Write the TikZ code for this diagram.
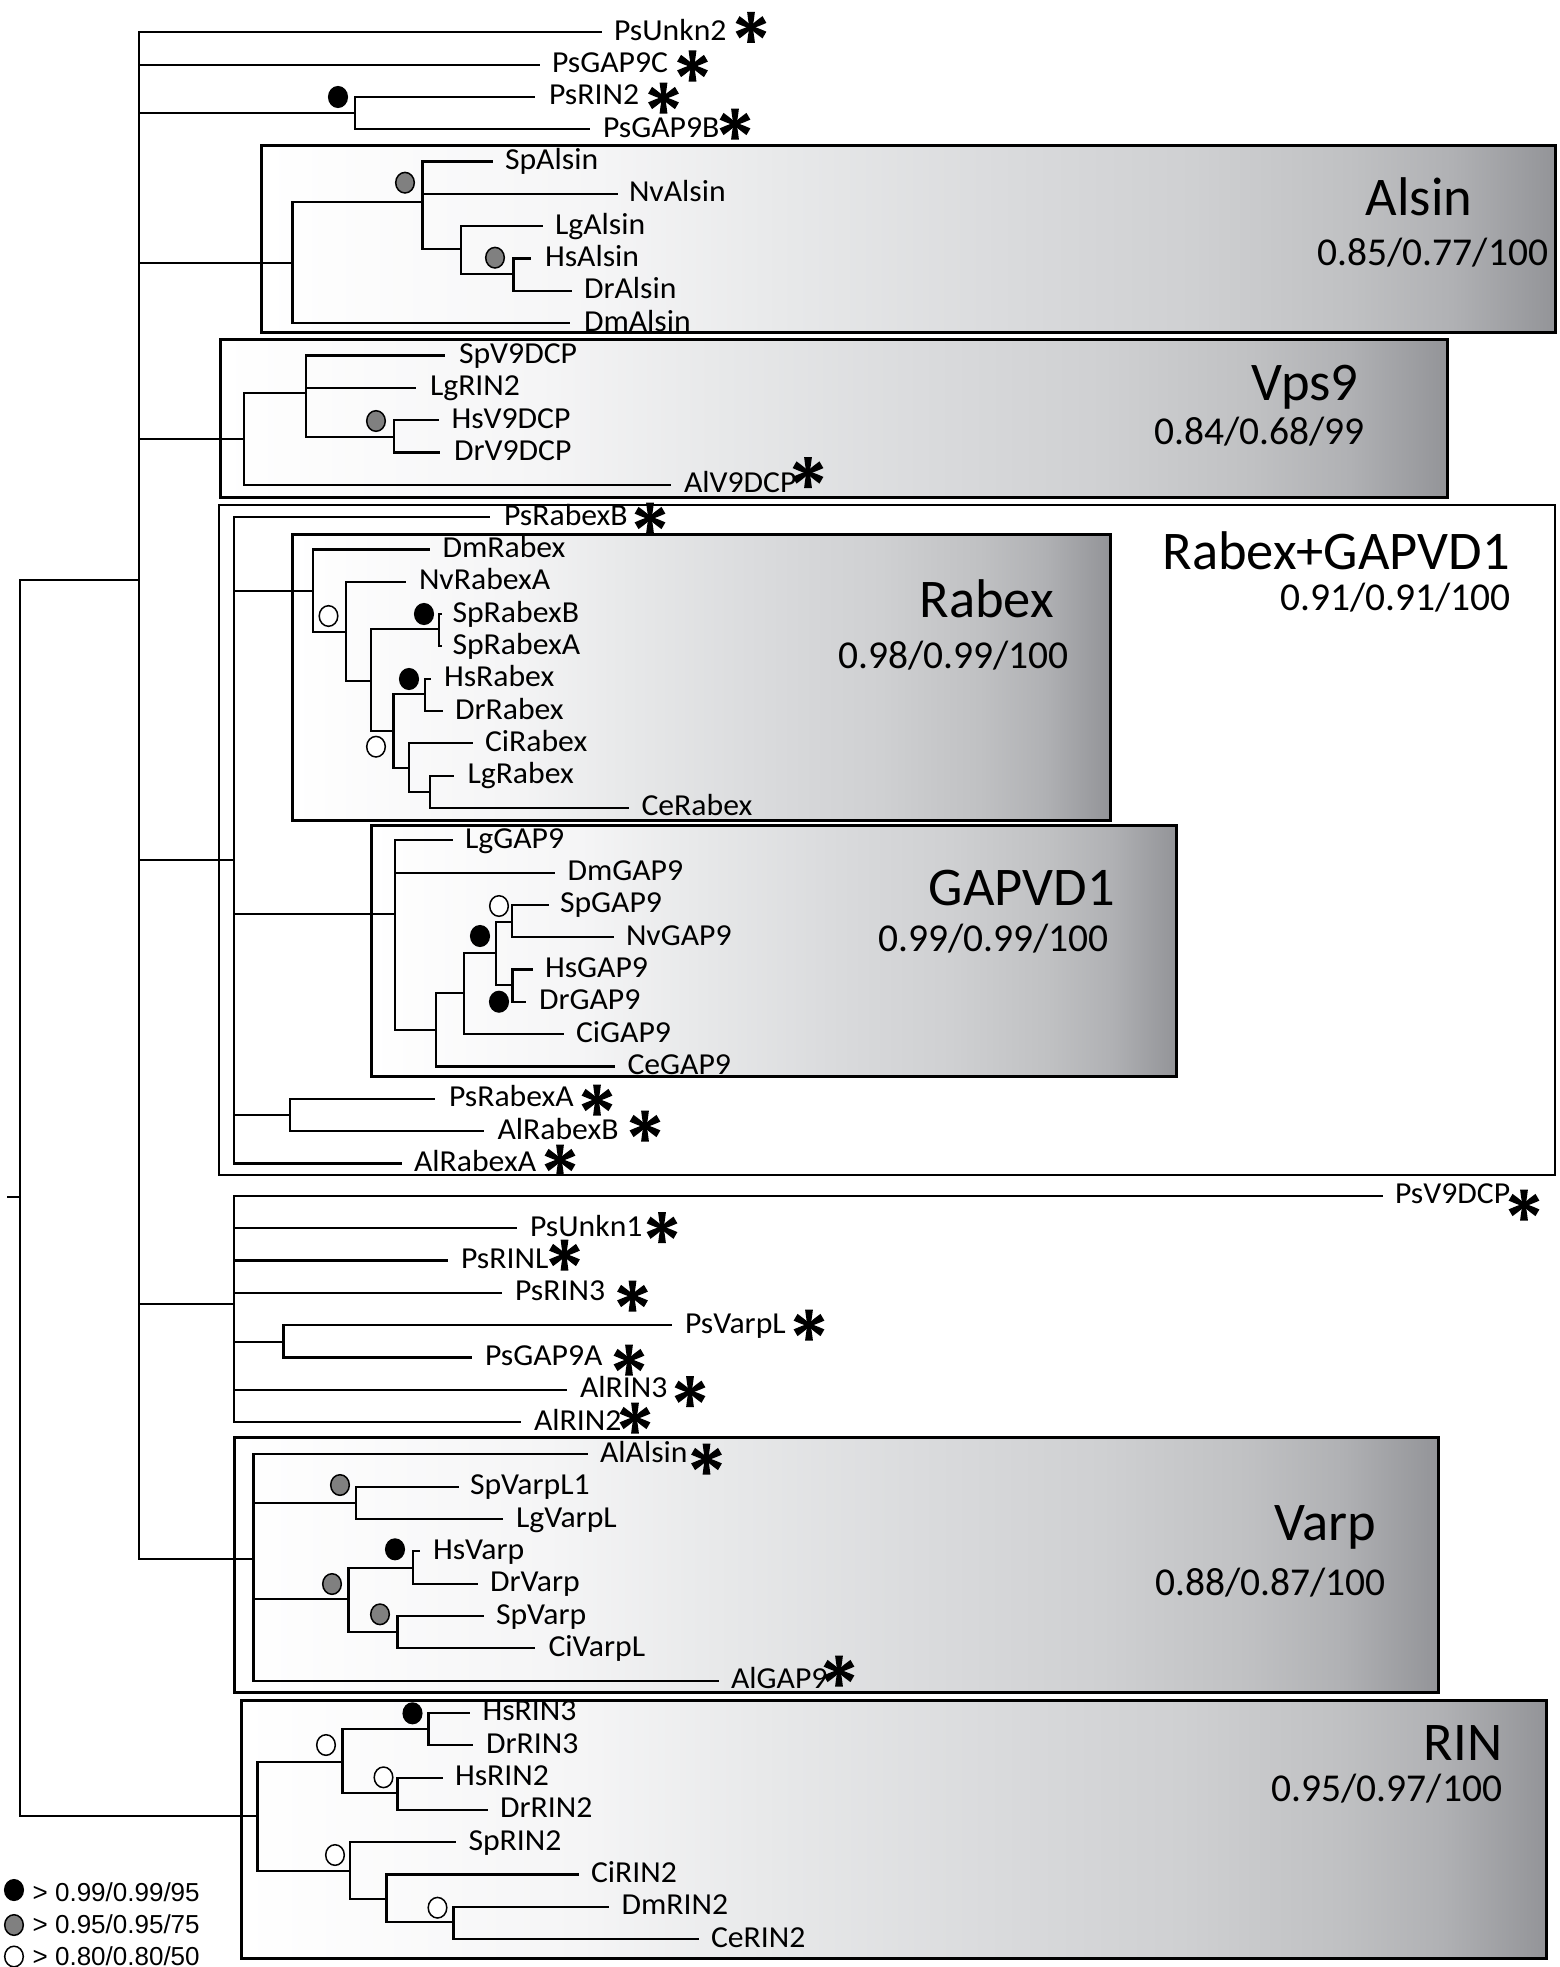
\documentclass[tikz,border=0pt]{standalone}
\usepackage{fontspec}
\setmainfont{Carlito}
\newfontfamily\leaffont[FakeStretch=1.04]{Carlito}
\newfontfamily\legfont{Liberation Sans}
\definecolor{sa}{RGB}{245,245,246}
\definecolor{sb}{RGB}{232,233,234}
\definecolor{sc}{RGB}{218,219,221}
\definecolor{sd}{RGB}{207,208,210}
\definecolor{se}{RGB}{192,193,195}
\definecolor{sf}{RGB}{176,177,180}
\definecolor{sg}{RGB}{147,148,152}
\definecolor{dotgray}{RGB}{128,128,128}
\pgfdeclarehorizontalshading{cladeshade}{100bp}{color(0bp)=(white); color(25bp)=(white); color(38bp)=(sa); color(45bp)=(sb); color(53.5bp)=(sc); color(61bp)=(sd); color(67bp)=(se); color(71bp)=(sf); color(75bp)=(sg); color(100bp)=(sg)}
\newcommand\mkleaf[4]{%
  \coordinate (t#1) at (#2,{32.3+32.32*#3});
  \node[leaf] (l#1) at (#4,{40.3+32.32*#3}) {#1};}
\newcommand\kids[2]{\foreach \c in {#2}{\draw[br] (#1) |- (\c);}}
\begin{document}
\begin{tikzpicture}[x=1pt,y=-1pt,
  br/.style={line width=2.2pt, line join=miter},
  leaf/.style={anchor=base west, inner sep=0pt, outer sep=0pt, font=\leaffont\fontsize{30.5}{31}\selectfont},
  ttl/.style={anchor=base east, inner sep=0pt, font=\fontsize{54.5}{55}\selectfont},
  supp/.style={anchor=base east, inner sep=0pt, font=\fontsize{39.5}{40}\selectfont},
  leg/.style={anchor=base west, inner sep=0pt, font=\legfont\fontsize{26}{27}\selectfont},
  cladebox/.style={draw=black, line width=3pt, shade, shading=cladeshade},
  dotB/.style={draw=black, fill=black, line width=1.5pt},
  dotG/.style={draw=black, fill=dotgray, line width=1.5pt},
  dotO/.style={draw=black, fill=white, line width=1.5pt},
  astr/.pic={\foreach \a in {90,30,150,210,270,330}{\fill[black,rotate=\a] (0,-1.7) -- (9,-3.1) -- (15.5,-3.9) -- (15.5,3.9) -- (9,3.1) -- (0,1.7) -- cycle;}}
]
\useasboundingbox (0,0) rectangle (1559,1967);
% ---- boxes ----
\draw[draw=black, line width=2pt, fill=white] (219,505) rectangle (1555,1175);
\path[cladebox] (261.5,145.7) rectangle (1555,332.7);
\path[cladebox] (220,339.3) rectangle (1447.5,497.7);
\path[cladebox] (292.5,534) rectangle (1110,820.7);
\path[cladebox] (371,825) rectangle (1176,1076.7);
\path[cladebox] (234,1437.7) rectangle (1438.5,1692.7);
\path[cladebox] (241,1700) rectangle (1546.5,1958.3);
% ---- clade titles ----
\node[ttl] (cAlsin) at (1472.5,215) {Alsin};
\node[supp] (nAlsin) at (1548.5,265) {0.85/0.77/100};
\node[ttl] (cVps) at (1358.5,400) {Vps9};
\node[supp] (nVps) at (1365,444) {0.84/0.68/99};
\node[ttl] (cRG) at (1510,569.3) {Rabex+GAPVD1};
\node[supp] (nRG) at (1511,610.7) {0.91/0.91/100};
\node[ttl] (cRabex) at (1054,617.7) {Rabex};
\node[supp] (nRabex) at (1069,668.3) {0.98/0.99/100};
\node[ttl] (cGAP) at (1115,905) {GAPVD1};
\node[supp] (nGAP) at (1109,951.7) {0.99/0.99/100};
\node[ttl] (cVarp) at (1376,1540) {Varp};
\node[supp] (nVarp) at (1386,1595) {0.88/0.87/100};
\node[ttl] (cRIN) at (1502.5,1760) {RIN};
\node[supp] (nRIN) at (1502.5,1801.7) {0.95/0.97/100};
% ---- leaves ----
\mkleaf{PsUnkn2}{602}{0}{614}
\mkleaf{PsGAP9C}{540}{1}{552}
\mkleaf{PsRIN2}{535}{2}{549}
\mkleaf{PsGAP9B}{590}{3}{603}
\mkleaf{SpAlsin}{492.5}{4}{505}
\mkleaf{NvAlsin}{617.5}{5}{629}
\mkleaf{LgAlsin}{542.5}{6}{555}
\mkleaf{HsAlsin}{531}{7}{545}
\mkleaf{DrAlsin}{571.5}{8}{584}
\mkleaf{DmAlsin}{570}{9}{584}
\mkleaf{SpV9DCP}{445}{10}{459}
\mkleaf{LgRIN2}{416}{11}{430}
\mkleaf{HsV9DCP}{438.5}{12}{451.5}
\mkleaf{DrV9DCP}{440}{13}{454}
\mkleaf{AlV9DCP}{671}{14}{684}
\mkleaf{PsRabexB}{490}{15}{504}
\mkleaf{DmRabex}{430}{16}{442.5}
\mkleaf{NvRabexA}{406}{17}{419}
\mkleaf{SpRabexB}{442}{18}{452.5}
\mkleaf{SpRabexA}{442}{19}{452.5}
\mkleaf{HsRabex}{431}{20}{444}
\mkleaf{DrRabex}{442.5}{21}{455}
\mkleaf{CiRabex}{472.5}{22}{485}
\mkleaf{LgRabex}{454}{23}{467.5}
\mkleaf{CeRabex}{629}{24}{641.5}
\mkleaf{LgGAP9}{452.5}{25}{465}
\mkleaf{DmGAP9}{555}{26}{567.5}
\mkleaf{SpGAP9}{548.5}{27}{560}
\mkleaf{NvGAP9}{614}{28}{626}
\mkleaf{HsGAP9}{532.5}{29}{545}
\mkleaf{DrGAP9}{526}{30}{539}
\mkleaf{CiGAP9}{563.5}{31}{576}
\mkleaf{CeGAP9}{615}{32}{627.5}
\mkleaf{PsRabexA}{435}{33}{449}
\mkleaf{AlRabexB}{484}{34}{497.5}
\mkleaf{AlRabexA}{401.5}{35}{414}
\mkleaf{PsV9DCP}{1383}{36}{1395}
\mkleaf{PsUnkn1}{516.5}{37}{530}
\mkleaf{PsRINL}{447.5}{38}{461}
\mkleaf{PsRIN3}{502}{39}{515}
\mkleaf{PsVarpL}{671.5}{40}{685}
\mkleaf{PsGAP9A}{472}{41}{485}
\mkleaf{AlRIN3}{567}{42}{580}
\mkleaf{AlRIN2}{521}{43}{534}
\mkleaf{AlAlsin}{587.5}{44}{600}
\mkleaf{SpVarpL1}{458.5}{45}{470}
\mkleaf{LgVarpL}{502.5}{46}{516}
\mkleaf{HsVarp}{420}{47}{433}
\mkleaf{DrVarp}{477.5}{48}{490}
\mkleaf{SpVarp}{484}{49}{496}
\mkleaf{CiVarpL}{535}{50}{548.5}
\mkleaf{AlGAP9}{719}{51}{731}
\mkleaf{HsRIN3}{470}{52}{482.5}
\mkleaf{DrRIN3}{472.5}{53}{486}
\mkleaf{HsRIN2}{442.5}{54}{455}
\mkleaf{DrRIN2}{487.5}{55}{500}
\mkleaf{SpRIN2}{456}{56}{468.5}
\mkleaf{CiRIN2}{578.5}{57}{591}
\mkleaf{DmRIN2}{608.5}{58}{621.5}
\mkleaf{CeRIN2}{698.5}{59}{711}
% ---- internal nodes ----
\coordinate (rs) at (7,1197);
\coordinate (R) at (20,1197);
\coordinate (M) at (139,580);
\coordinate (Nps) at (355,113);
\coordinate (A0) at (292.5,262.7);
\coordinate (A1) at (422.5,201.7);
\coordinate (A2) at (461,249.3);
\coordinate (A3) at (513.5,274.3);
\coordinate (V0) at (244,439.3);
\coordinate (V1) at (306,393.3);
\coordinate (V2) at (394,436.7);
\coordinate (G0) at (234,860);
\coordinate (R0) at (313,590.7);
\coordinate (R1) at (346,631.7);
\coordinate (R2) at (371,681);
\coordinate (R3) at (439,629.3);
\coordinate (R4) at (393.5,731);
\coordinate (R5) at (425,694.3);
\coordinate (R6) at (409,767.7);
\coordinate (R7) at (430,792.3);
\coordinate (P0) at (395,914.3);
\coordinate (P1) at (436,1030);
\coordinate (P2) at (464,993.3);
\coordinate (P3) at (496,953.3);
\coordinate (P4) at (512,921.7);
\coordinate (P5) at (512.5,985);
\coordinate (Pab) at (290,1115);
\coordinate (U0) at (234,1304.3);
\coordinate (U1) at (283.5,1341.7);
\coordinate (W0) at (253.5,1559.3);
\coordinate (W1) at (356,1502.7);
\coordinate (W2) at (348.5,1599.3);
\coordinate (W3) at (413,1567.7);
\coordinate (W4) at (397.5,1631.7);
\coordinate (N0) at (257.5,1816);
\coordinate (N1) at (342.5,1761.7);
\coordinate (N2) at (428.5,1729.3);
\coordinate (N3) at (397.5,1793.3);
\coordinate (N4) at (350,1870.7);
\coordinate (N5) at (386.5,1899);
\coordinate (N6) at (453.5,1922.3);
% ---- branches ----
\draw[br] (rs) -- (R);
\kids{R}{M,N0}
\kids{M}{tPsUnkn2,tPsGAP9C,Nps,A0,V0,G0,U0,W0}
\kids{Nps}{tPsRIN2,tPsGAP9B}
\kids{A0}{A1,tDmAlsin}
\kids{A1}{tSpAlsin,tNvAlsin,A2}
\kids{A2}{tLgAlsin,A3}
\kids{A3}{tHsAlsin,tDrAlsin}
\kids{V0}{V1,tAlV9DCP}
\kids{V1}{tSpV9DCP,tLgRIN2,V2}
\kids{V2}{tHsV9DCP,tDrV9DCP}
\kids{G0}{tPsRabexB,R0,P0,Pab,tAlRabexA}
\kids{R0}{tDmRabex,R1}
\kids{R1}{tNvRabexA,R2}
\kids{R2}{R3,R4}
\kids{R3}{tSpRabexB,tSpRabexA}
\kids{R4}{R5,R6}
\kids{R5}{tHsRabex,tDrRabex}
\kids{R6}{tCiRabex,R7}
\kids{R7}{tLgRabex,tCeRabex}
\kids{P0}{tLgGAP9,tDmGAP9,P1}
\kids{P1}{P2,tCeGAP9}
\kids{P2}{P3,tCiGAP9}
\kids{P3}{P4,P5}
\kids{P4}{tSpGAP9,tNvGAP9}
\kids{P5}{tHsGAP9,tDrGAP9}
\kids{Pab}{tPsRabexA,tAlRabexB}
\kids{U0}{tPsV9DCP,tPsUnkn1,tPsRINL,tPsRIN3,U1,tAlRIN3,tAlRIN2}
\kids{U1}{tPsVarpL,tPsGAP9A}
\kids{W0}{tAlAlsin,W1,W2,tAlGAP9}
\kids{W1}{tSpVarpL1,tLgVarpL}
\kids{W2}{W3,W4}
\kids{W3}{tHsVarp,tDrVarp}
\kids{W4}{tSpVarp,tCiVarpL}
\kids{N0}{N1,N4}
\kids{N1}{N2,N3}
\kids{N2}{tHsRIN3,tDrRIN3}
\kids{N3}{tHsRIN2,tDrRIN2}
\kids{N4}{tSpRIN2,N5}
\kids{N5}{tCiRIN2,N6}
\kids{N6}{tDmRIN2,tCeRIN2}
% ---- support dots ----
\draw[dotB] (338,97) ellipse [x radius=9.3pt, y radius=10.3pt];
\draw[dotG] (405,182.7) ellipse [x radius=9.3pt, y radius=10.3pt];
\draw[dotG] (495,257.7) ellipse [x radius=9.3pt, y radius=10.3pt];
\draw[dotG] (376,421) ellipse [x radius=9.3pt, y radius=10.3pt];
\draw[dotO] (328.5,616) ellipse [x radius=9.3pt, y radius=10.3pt];
\draw[dotB] (424,614) ellipse [x radius=9.3pt, y radius=10.3pt];
\draw[dotB] (409,679) ellipse [x radius=9.3pt, y radius=10.3pt];
\draw[dotO] (376,746.7) ellipse [x radius=9.3pt, y radius=10.3pt];
\draw[dotO] (499,906) ellipse [x radius=9.3pt, y radius=10.3pt];
\draw[dotB] (480,936) ellipse [x radius=9.3pt, y radius=10.3pt];
\draw[dotB] (499,1001.7) ellipse [x radius=9.3pt, y radius=10.3pt];
\draw[dotG] (340,1485) ellipse [x radius=9.3pt, y radius=10.3pt];
\draw[dotB] (395,1549.3) ellipse [x radius=9.3pt, y radius=10.3pt];
\draw[dotG] (332,1584) ellipse [x radius=9.3pt, y radius=10.3pt];
\draw[dotG] (380,1614.3) ellipse [x radius=9.3pt, y radius=10.3pt];
\draw[dotB] (412.5,1713.3) ellipse [x radius=9.3pt, y radius=10.3pt];
\draw[dotO] (326,1745) ellipse [x radius=9.3pt, y radius=10.3pt];
\draw[dotO] (383.5,1777.3) ellipse [x radius=9.3pt, y radius=10.3pt];
\draw[dotO] (335,1855) ellipse [x radius=9.3pt, y radius=10.3pt];
\draw[dotO] (437.5,1907.7) ellipse [x radius=9.3pt, y radius=10.3pt];
% ---- stars ----
\pic at (751,27.3) {astr};
\pic at (692.5,66) {astr};
\pic at (663.5,98) {astr};
\pic at (735,124) {astr};
\pic at (808,472.5) {astr};
\pic at (650,518) {astr};
\pic at (597,1100) {astr};
\pic at (645,1126) {astr};
\pic at (560,1160) {astr};
\pic at (1524,1205) {astr};
\pic at (662,1227.7) {astr};
\pic at (564.5,1255) {astr};
\pic at (632.5,1296) {astr};
\pic at (809,1325) {astr};
\pic at (629,1360) {astr};
\pic at (690,1391.7) {astr};
\pic at (635,1418) {astr};
\pic at (706.5,1459) {astr};
\pic at (839,1671) {astr};
% ---- legend ----
\draw[dotB] (14,1890) ellipse [x radius=9.3pt, y radius=10.3pt];
\draw[dotG] (14,1925) ellipse [x radius=9.3pt, y radius=10.3pt];
\draw[dotO] (14,1956.5) ellipse [x radius=9.3pt, y radius=10.3pt];
\node[leg] (lg1) at (32.5,1901.7) {> 0.99/0.99/95};
\node[leg] (lg2) at (32.5,1933.3) {> 0.95/0.95/75};
\node[leg] (lg3) at (32.5,1965) {> 0.80/0.80/50};
\end{tikzpicture}
\end{document}
